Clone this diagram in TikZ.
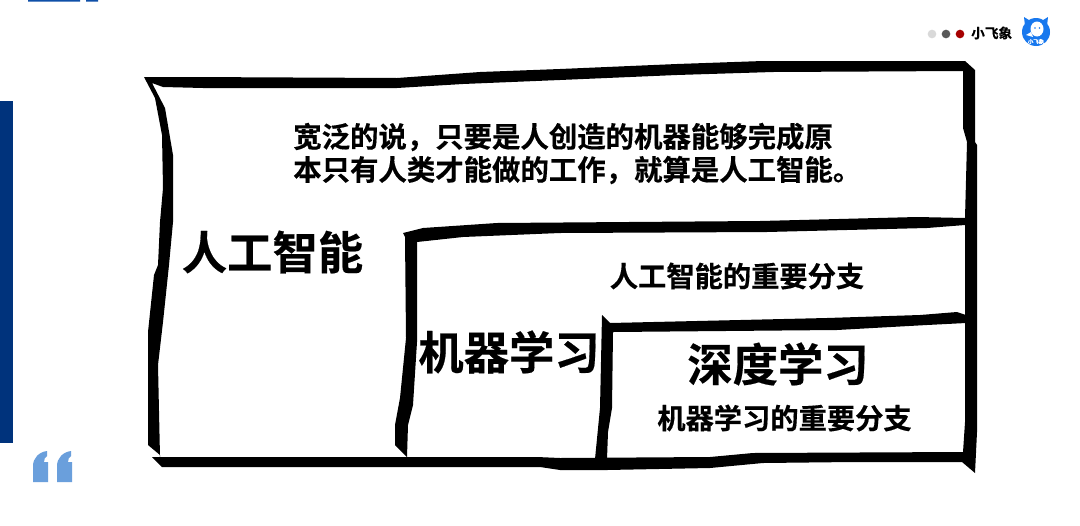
\documentclass[tikz,border=0pt]{standalone}
\usepackage{fontspec}
\setmainfont{Noto Sans CJK SC}[BoldFont={* Bold}, BoldFeatures={FakeBold=0.4}]
\usetikzlibrary{positioning, calc}
\definecolor{barblue}{HTML}{00337C}
\definecolor{tabblue}{HTML}{0F4FA8}
\definecolor{quoteblue}{HTML}{6A9FDC}
\definecolor{logoblue}{HTML}{1878EE}
\tikzset{
  inkstroke/.style={fill=black, draw=none},
  bigtext/.style={font=\bfseries\fontsize{34}{34}\selectfont, inner sep=0pt},
  midtext/.style={font=\bfseries\fontsize{21.2}{21.2}\selectfont, inner sep=0pt},
  bodytext/.style={font=\bfseries\fontsize{21.3}{24.75}\selectfont, inner sep=0pt, align=left},
  menudot/.style={circle, inner sep=0pt, minimum size=6.5pt},
}
\begin{document}
\begin{tikzpicture}[x=0.75pt, y=-0.75pt]
  \useasboundingbox[fill=white] (0,0) rectangle (1080,525);
  % page decoration
  \fill[barblue] (0,101) rectangle (13,443);
  \fill[tabblue] (28,0) rectangle (80,1.5) (86,0) rectangle (98,1.5);
  \fill[quoteblue] (33,482) -- (33,466) .. controls (33,458) and (39,452) .. (47,451) -- (47,456) .. controls (45,457) and (44,459) .. (44,462) -- (48,462) -- (48,482) -- cycle;
  \fill[quoteblue] (57,482) -- (57,466) .. controls (57,458) and (63,452) .. (71,451) -- (71,456) .. controls (69,457) and (68,459) .. (68,462) -- (72,462) -- (72,482) -- cycle;
  % header
  \node[menudot, fill=black!15] (dotA) at (932,34) {};
  \node[menudot, fill=black!65] (dotB) at (946,34) {};
  \node[menudot, fill=red!65!black] (dotC) at (960,34) {};
  \node[anchor=west, inner sep=0pt, font=\fontsize{10.2}{10.2}\selectfont\bfseries] (brand) at (971,33) {小飞象};
  \fill[logoblue] (1036,32) circle (14);
  \fill[logoblue] (1025,26) -- (1024,17) -- (1032,22) -- (1040,22) -- (1048,17) -- (1047,26) -- cycle;
  \fill[white] (1037,29) ellipse (6.5 and 7.5);
  \fill[white] (1031,32) -- (1026,35) -- (1033,37) -- cycle;
  \fill[logoblue] (1035,28) circle (0.8) (1039.5,28) circle (0.8);
  \node[inner sep=0pt, white, font=\fontsize{4}{4}\selectfont\bfseries] (logoText) at (1036,41.5) {小飞象};
  % outer frame
  \fill[inkstroke] (144,77) -- (190,77) -- (397,78) -- (480,72) -- (560,69) -- (677,64) -- (763,61) -- (965,61) -- (975,70) -- (975,142) -- (977,145) -- (977,432) -- (975,473) -- (962,462)
    -- (853,462) -- (763,463) -- (710,468) -- (607,470) -- (560,470) -- (540,467) -- (162,467) -- (152,457) -- (160,457) -- (160,455) -- (148,445) -- (148,332) -- (154,275) -- (158,265) -- (160,222) -- (163,188) -- (162,135) -- (155,98) -- cycle
    (152,83) -- (165,108) -- (173,155) -- (173,222) -- (169,265) -- (163,322) -- (158,365) -- (160,457) -- (537,457) -- (560,458) -- (710,457) -- (753,453) -- (963,452) -- (965,422) -- (965,225) -- (927,228) -- (767,232) -- (560,233) -- (463,237) -- (417,242) -- (417,342) -- (413,405) -- (408,425) -- (407,457) -- (395,445) -- (395,425) -- (400,398) -- (406,338) -- (405,237) -- (403,233) -- (423,228) -- (497,223) -- (760,221) -- (917,217) -- (965,218) -- (967,142) -- (963,128) -- (963,71) -- (773,72) -- (677,75) -- (560,80) -- (463,84) -- (397,88) -- (203,88) -- (163,87) -- cycle;
  % inner hole corner of the deep box
  \fill[inkstroke] (602,315) -- (610,323) -- (827,318) -- (920,315) -- (957,312) -- (966,315) -- (966,323) -- (927,325) -- (837,330) -- (613,332) -- (612,408) -- (608,432) -- (607,459) -- (595,459) -- (600,408) -- cycle;
  % labels
  \node[bodytext, anchor=west] (topnote) at (293,153.5) {宽泛的说，只要是人创造的机器能够完成原\\本只有人类才能做的工作，就算是人工智能。};
  \node[bigtext] (aiLabel) at (272.5,252) {人工智能};
  \node[bigtext] (mlLabel) at (509,352) {机器学习};
  \node[bigtext] (dlLabel) at (778,364) {深度学习};
  \node[midtext] (mlNote) at (737,276) {人工智能的重要分支};
  \node[midtext] (dlNote) at (784.5,418) {机器学习的重要分支};
\end{tikzpicture}
\end{document}
